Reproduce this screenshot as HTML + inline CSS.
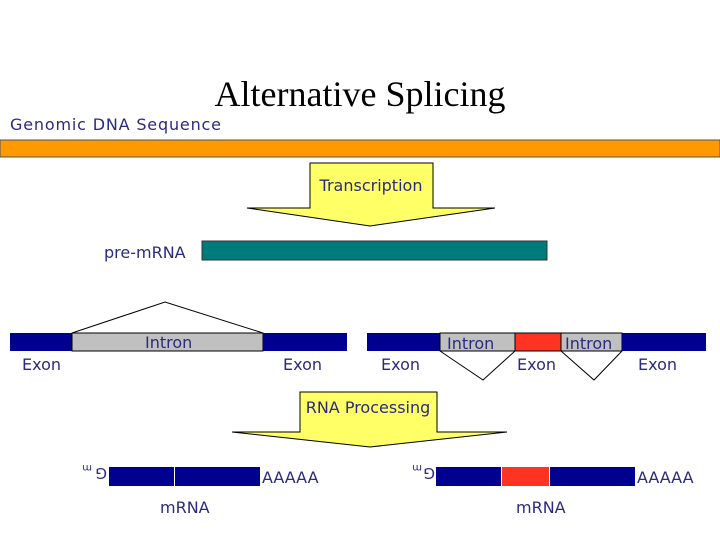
<!DOCTYPE html>
<html><head><style>body{margin:0;background:#fff}svg{display:block}</style></head><body>
<svg width="720" height="540" xmlns="http://www.w3.org/2000/svg" font-family="DejaVu Sans, Liberation Sans, sans-serif">
<text x="360" y="106" font-family="Liberation Serif, serif" font-size="36" text-anchor="middle" fill="#000">Alternative Splicing</text>
<g fill="#2a2a80" font-size="16">
<text x="10" y="130" textLength="211">Genomic DNA Sequence</text>
</g>
<rect x="0" y="140" width="720" height="17" fill="#ff9900" stroke="#555" stroke-width="1"/>
<polygon points="310,163 433,163 433,208 495,208 370,226 247,208 310,208" fill="#ffff66" stroke="#000" stroke-width="1"/>
<text x="371" y="191" font-size="16" text-anchor="middle" fill="#2a2a80">Transcription</text>
<text x="104" y="258" font-size="16" fill="#2a2a80">pre-mRNA</text>
<rect x="202" y="241" width="345" height="19" fill="#007b7b" stroke="#333" stroke-width="1"/>
<polyline points="72,333 165,302 263,333" fill="none" stroke="#000"/>
<rect x="10" y="333" width="62" height="18" fill="#000090"/>
<rect x="72" y="333" width="191" height="18" fill="#c0c0c0" stroke="#000"/>
<rect x="263" y="333" width="84" height="18" fill="#000090"/>
<rect x="367" y="333" width="73" height="18" fill="#000090"/>
<rect x="440" y="333" width="75" height="18" fill="#c0c0c0" stroke="#000"/>
<rect x="515" y="333" width="46" height="18" fill="#ff3322" stroke="#000"/>
<rect x="561" y="333" width="61" height="18" fill="#c0c0c0" stroke="#000"/>
<rect x="622" y="333" width="84" height="18" fill="#000090"/>
<polyline points="440,351 483,380 515,351" fill="none" stroke="#000"/>
<polyline points="561,351 594,380 622,351" fill="none" stroke="#000"/>
<g fill="#2a2a80" font-size="16">
<text x="145" y="348">Intron</text>
<text x="447" y="349">Intron</text>
<text x="565" y="349">Intron</text>
<text x="22" y="370">Exon</text>
<text x="283" y="370">Exon</text>
<text x="381" y="370">Exon</text>
<text x="517" y="370">Exon</text>
<text x="638" y="370">Exon</text>
</g>
<polygon points="300,392 437,392 437,432 507,432 370,447 232,432 300,432" fill="#ffff66" stroke="#000" stroke-width="1"/>
<text x="368" y="413" font-size="16" text-anchor="middle" fill="#2a2a80">RNA Processing</text>
<rect x="109" y="467" width="65" height="19" fill="#000090"/>
<rect x="175" y="467" width="85" height="19" fill="#000090"/>
<text x="262" y="483" font-size="16" fill="#2a2a80">AAAAA</text>
<text x="160" y="513" font-size="16" fill="#2a2a80">mRNA</text>
<text transform="translate(107,468) rotate(180)" font-size="15" fill="#2a2a80">G</text>
<text transform="translate(92,465) rotate(180)" font-size="10" fill="#2a2a80">m</text>
<rect x="436" y="467" width="65" height="19" fill="#000090"/>
<rect x="502" y="467" width="47" height="19" fill="#ff3322"/>
<rect x="550" y="467" width="85" height="19" fill="#000090"/>
<text x="637" y="483" font-size="16" fill="#2a2a80">AAAAA</text>
<text x="516" y="513" font-size="16" fill="#2a2a80">mRNA</text>
<text transform="translate(435,468) rotate(180)" font-size="15" fill="#2a2a80">G</text>
<text transform="translate(422,465) rotate(180)" font-size="10" fill="#2a2a80">m</text>
</svg>
</body></html>
